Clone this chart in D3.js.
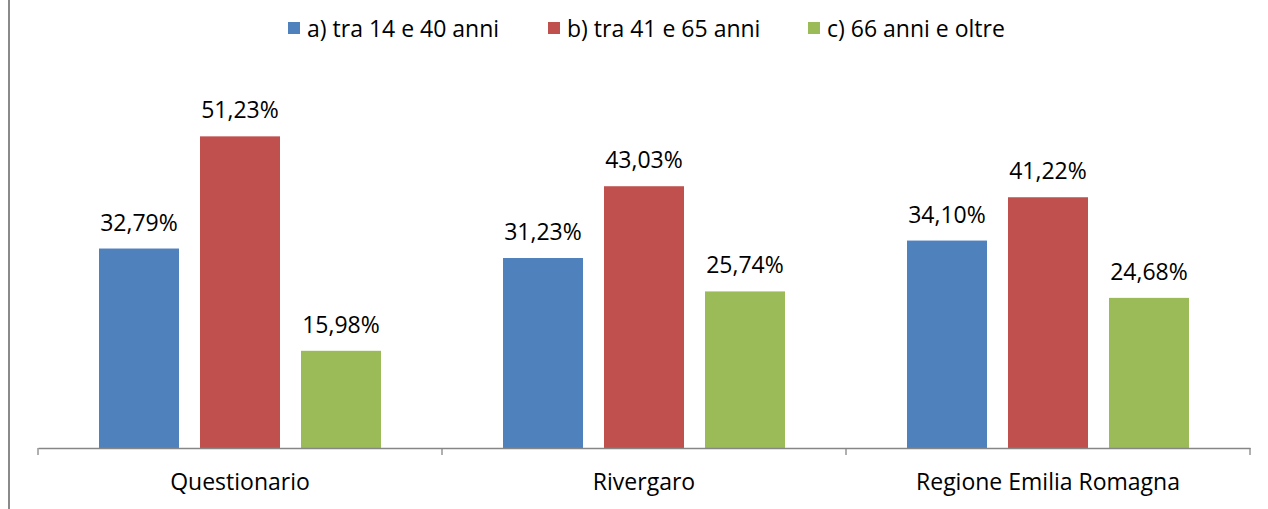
<!DOCTYPE html>
<html>
<head>
<meta charset="utf-8">
<script src="https://cdn.jsdelivr.net/npm/d3@7"></script>
<style>
  html, body { margin: 0; padding: 0; background: #fff; }
  svg { display: block; font-family: "Open Sans", "Noto Sans", sans-serif; }
</style>
</head>
<body>
<svg id="chart" width="1268" height="509"></svg>
<script>
// Age groups by source (percent)
const categories = ["Questionario", "Rivergaro", "Regione Emilia Romagna"];
const seriesNames = ["a) tra 14 e 40 anni", "b) tra 41 e 65 anni", "c) 66 anni e oltre"];
const seriesA = [32.79, 31.23, 34.10];
const seriesB = [51.23, 43.03, 41.22];
const seriesC = [15.98, 25.74, 24.68];
const seriesColors = ["#4F81BD", "#C0504D", "#9BBB59"];

const series = [seriesA, seriesB, seriesC];

const svg = d3.select("#chart");
const W = 1268, H = 509;
const FS = 23;

// plot frame edge on the left
svg.append("line")
  .attr("x1", 9).attr("x2", 9).attr("y1", 0).attr("y2", H)
  .attr("stroke", "#8a8a8a").attr("stroke-width", 2);

const groupW = 282;
const x0 = d3.scaleBand().domain(categories).range([38, 1250]).paddingInner(0).paddingOuter(0);
const x1 = d3.scaleBand().domain(d3.range(series.length))
  .range([0, groupW]).paddingInner(0.208).paddingOuter(0);
const y = d3.scaleLinear().domain([0, 60]).range([448, 83]);

const groupOffset = (x0.bandwidth() - groupW) / 2;

const fmt = v => v.toFixed(2).replace(".", ",") + "%";

// bars and value labels
series.forEach((vals, si) => {
  const g = svg.append("g");
  g.selectAll("rect").data(vals).join("rect")
    .attr("x", (d, i) => x0(categories[i]) + groupOffset + x1(si))
    .attr("width", x1.bandwidth())
    .attr("y", d => y(d))
    .attr("height", d => y(0) - y(d))
    .attr("fill", seriesColors[si]);
  g.selectAll("text").data(vals).join("text")
    .attr("x", (d, i) => x0(categories[i]) + groupOffset + x1(si) + x1.bandwidth() / 2)
    .attr("y", d => y(d) - 18)
    .attr("text-anchor", "middle")
    .attr("font-size", FS)
    .attr("fill", "#000")
    .text(d => fmt(d));
});

// category axis
const axis = d3.axisBottom(x0).tickSize(0).tickPadding(26);
const ax = svg.append("g").attr("transform", `translate(0,${y(0)})`).call(axis);
ax.select(".domain").attr("stroke", "#868686").attr("stroke-width", 1.3);
ax.selectAll(".tick text").attr("font-size", FS).attr("fill", "#000")
  .attr("font-family", "'Open Sans', 'Noto Sans', sans-serif");
// boundary tick marks between categories
const bounds = categories.map(c => x0(c)).concat([x0.range()[1]]);
ax.selectAll("line.sep").data(bounds).join("line")
  .attr("class", "sep")
  .attr("x1", d => d).attr("x2", d => d)
  .attr("y1", 0).attr("y2", 7)
  .attr("stroke", "#868686").attr("stroke-width", 1.3);

// legend
const legendX = [288, 548, 808];
const lg = svg.append("g");
seriesNames.forEach((name, i) => {
  lg.append("rect").attr("x", legendX[i]).attr("y", 22).attr("width", 12).attr("height", 12)
    .attr("fill", seriesColors[i]);
  lg.append("text").attr("x", legendX[i] + 19).attr("y", 37)
    .attr("font-size", FS).attr("fill", "#000").text(name);
});
</script>
</body>
</html>
